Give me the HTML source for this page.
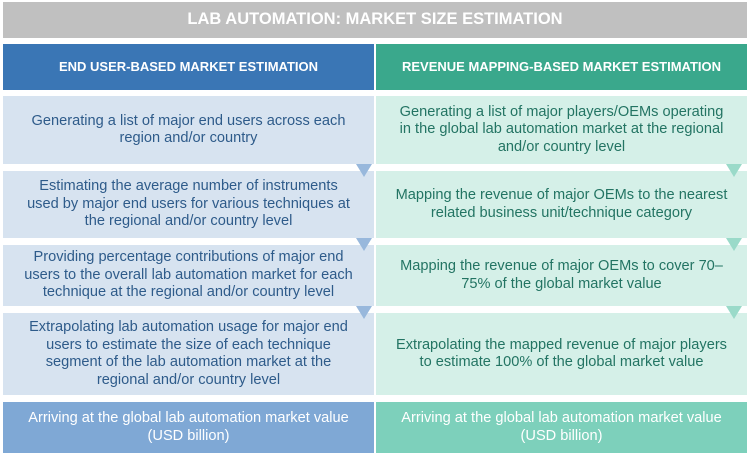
<!DOCTYPE html>
<html><head><style>
body{margin:0;width:750px;height:459px;background:#fff;position:relative;overflow:hidden;font-family:"Liberation Sans",sans-serif}
div.b{position:absolute;display:flex;align-items:center;justify-content:center;text-align:center;box-sizing:border-box;padding:0 20px;font-size:14.6px;line-height:17.5px}
.t{left:3px;top:2px;width:744px;height:36px;background:#c0c0c0;color:#fff;font-weight:bold;font-size:16.5px!important}
.h{top:44px;height:46px;color:#fff;font-weight:bold;font-size:13px!important;padding:0!important;white-space:nowrap}
.L{left:3px;width:371px}
.R{left:376px;width:371px}
.lb{background:#d7e3f0;color:#2e5b8a}
.rb{background:#d5f0e8;color:#237463}
.tri{position:absolute;width:0;height:0;border-left:8px solid transparent;border-right:8px solid transparent;border-top:13px solid #98b8dc}
.tri.g{border-top-color:#9adac9}
</style></head><body>
<div class="b t">LAB AUTOMATION: MARKET SIZE ESTIMATION</div>
<div class="b h L" style="background:#3a76b5">END USER-BASED MARKET ESTIMATION</div>
<div class="b h R" style="background:#3aa88c">REVENUE MAPPING-BASED MARKET ESTIMATION</div>

<div class="b L lb" style="top:96px;height:68px;padding:0 24px">Generating a list of major end users across each region and/or country</div>
<div class="b L lb" style="top:171px;height:67px;padding:0 24px">Estimating the average number of instruments used by major end users for various techniques at the regional and/or country level</div>
<div class="b L lb" style="top:245px;height:61px;padding:0 14px">Providing percentage contributions of major end users to the overall lab automation market for each technique at the regional and/or country level</div>
<div class="b L lb" style="top:313px;height:82px">Extrapolating lab automation usage for major end users to estimate the size of each technique segment of the lab automation market at the regional and/or country level</div>
<div class="b L" style="top:402px;height:51px;background:#7fa8d5;color:#fff">Arriving at the global lab automation market value (USD billion)</div>

<div class="b R rb" style="top:96px;height:68px">Generating a list of major players/OEMs operating in the global lab automation market at the regional and/or country level</div>
<div class="b R rb" style="top:171px;height:67px;padding:0 8px">Mapping the revenue of major OEMs to the nearest related business unit/technique category</div>
<div class="b R rb" style="top:245px;height:61px;padding:0 24px">Mapping the revenue of major OEMs to cover 70–75% of the global market value</div>
<div class="b R rb" style="top:313px;height:82px">Extrapolating the mapped revenue of major players to estimate 100% of the global market value</div>
<div class="b R" style="top:402px;height:51px;background:#7dd0bb;color:#fff">Arriving at the global lab automation market value (USD billion)</div>

<div class="tri" style="left:356px;top:164px"></div>
<div class="tri" style="left:356px;top:238px"></div>
<div class="tri" style="left:356px;top:306px"></div>
<div class="tri g" style="left:726px;top:164px"></div>
<div class="tri g" style="left:726px;top:238px"></div>
<div class="tri g" style="left:726px;top:306px"></div>
</body></html>
